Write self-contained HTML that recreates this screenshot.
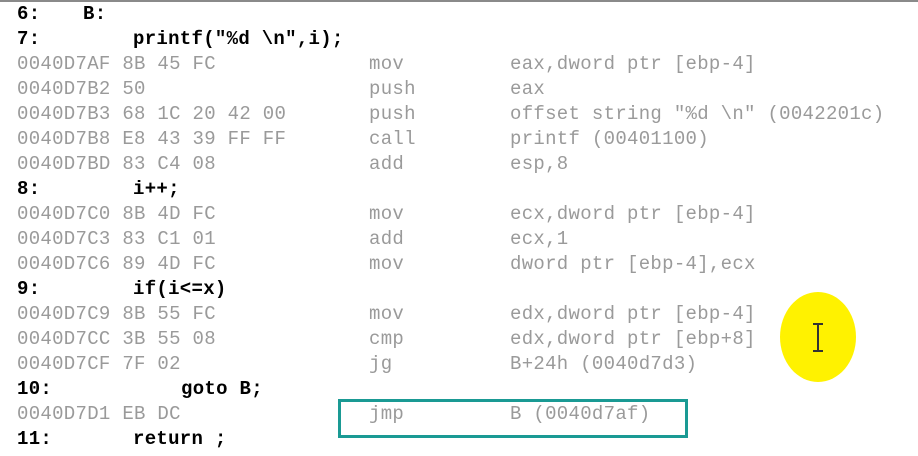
<!DOCTYPE html>
<html><head><meta charset="utf-8"><style>
html,body{margin:0;padding:0;background:#fff;width:918px;height:456px;overflow:hidden}
svg text{font-family:"Liberation Mono","DejaVu Sans Mono",monospace;font-size:19px;letter-spacing:0.3px;white-space:pre}
.g{fill:#9a9a9a}
.b{fill:#000;font-weight:bold}
</style></head><body>
<svg width="918" height="456" viewBox="0 0 918 456" xmlns="http://www.w3.org/2000/svg">
<rect x="0" y="0" width="918" height="2" fill="#8a8a8a"/>
<ellipse cx="818" cy="337" rx="38" ry="45" fill="#fff200"/>
<g>
<text class="b" x="17" y="19">6:</text><text class="b" x="83" y="19">B:</text>
<text class="b" x="17" y="44">7:</text><text class="b" x="133" y="44">printf("%d \n",i);</text>
<text class="g" x="17" y="69">0040D7AF 8B 45 FC</text><text class="g" x="369" y="69">mov</text><text class="g" x="510" y="69">eax,dword ptr [ebp-4]</text>
<text class="g" x="17" y="94">0040D7B2 50</text><text class="g" x="369" y="94">push</text><text class="g" x="510" y="94">eax</text>
<text class="g" x="17" y="119">0040D7B3 68 1C 20 42 00</text><text class="g" x="369" y="119">push</text><text class="g" x="510" y="119">offset string "%d \n" (0042201c)</text>
<text class="g" x="17" y="144">0040D7B8 E8 43 39 FF FF</text><text class="g" x="369" y="144">call</text><text class="g" x="510" y="144">printf (00401100)</text>
<text class="g" x="17" y="169">0040D7BD 83 C4 08</text><text class="g" x="369" y="169">add</text><text class="g" x="510" y="169">esp,8</text>
<text class="b" x="17" y="194">8:</text><text class="b" x="133" y="194">i++;</text>
<text class="g" x="17" y="219">0040D7C0 8B 4D FC</text><text class="g" x="369" y="219">mov</text><text class="g" x="510" y="219">ecx,dword ptr [ebp-4]</text>
<text class="g" x="17" y="244">0040D7C3 83 C1 01</text><text class="g" x="369" y="244">add</text><text class="g" x="510" y="244">ecx,1</text>
<text class="g" x="17" y="269">0040D7C6 89 4D FC</text><text class="g" x="369" y="269">mov</text><text class="g" x="510" y="269">dword ptr [ebp-4],ecx</text>
<text class="b" x="17" y="294">9:</text><text class="b" x="133" y="294">if(i&lt;=x)</text>
<text class="g" x="17" y="319">0040D7C9 8B 55 FC</text><text class="g" x="369" y="319">mov</text><text class="g" x="510" y="319">edx,dword ptr [ebp-4]</text>
<text class="g" x="17" y="344">0040D7CC 3B 55 08</text><text class="g" x="369" y="344">cmp</text><text class="g" x="510" y="344">edx,dword ptr [ebp+8]</text>
<text class="g" x="17" y="369">0040D7CF 7F 02</text><text class="g" x="369" y="369">jg</text><text class="g" x="510" y="369">B+24h (0040d7d3)</text>
<text class="b" x="17" y="394">10:</text><text class="b" x="181" y="394">goto B;</text>
<text class="g" x="17" y="419">0040D7D1 EB DC</text><text class="g" x="369" y="419">jmp</text><text class="g" x="510" y="419">B (0040d7af)</text>
<text class="b" x="17" y="444">11:</text><text class="b" x="133" y="444">return ;</text>
</g>
<rect x="339.5" y="400.5" width="347" height="36" fill="none" stroke="#1a9a94" stroke-width="3"/>
<g stroke="#333" stroke-width="2" fill="none">
<line x1="818" y1="324" x2="818" y2="351"/>
<line x1="813" y1="324" x2="823" y2="324"/>
<line x1="813" y1="351" x2="823" y2="351"/>
</g>
</svg>
</body></html>
